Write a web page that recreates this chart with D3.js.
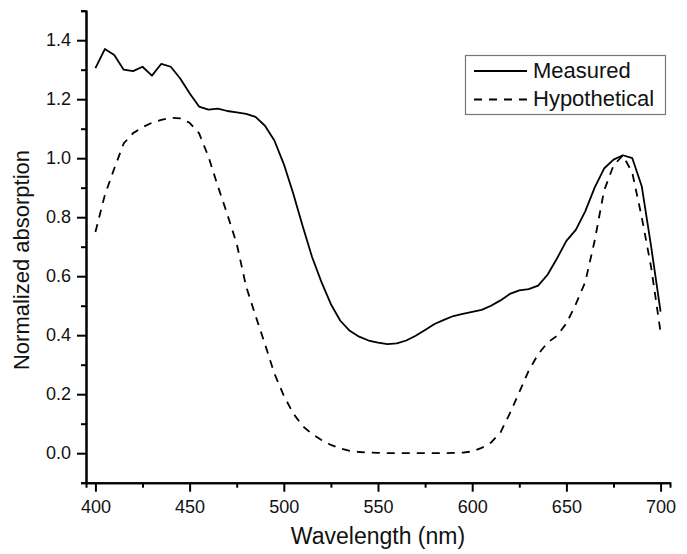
<!DOCTYPE html>
<html>
<head>
<meta charset="utf-8">
<script src="https://cdn.jsdelivr.net/npm/d3@7"></script>
<style>
  html, body { margin: 0; padding: 0; background: #fff; }
  svg { display: block; font-family: "Liberation Sans", Arial, sans-serif; }
  .axis path, .axis line { stroke: #000; stroke-width: 2; }
  .axis text { font-size: 18px; fill: #111; }
</style>
</head>
<body>
<svg id="chart" width="687" height="554"></svg>
<script>
// wavelength grid (nm) and the two spectra
var wavelengths = [400, 405, 410, 415, 420, 425, 430, 435, 440, 445,
                   450, 455, 460, 465, 470, 475, 480, 485, 490, 495,
                   500, 505, 510, 515, 520, 525, 530, 535, 540, 545,
                   550, 555, 560, 565, 570, 575, 580, 585, 590, 595,
                   600, 605, 610, 615, 620, 625, 630, 635, 640, 645,
                   650, 655, 660, 665, 670, 675, 680, 685, 690, 695, 700];

var measured = [1.305, 1.37, 1.35, 1.30, 1.295, 1.31, 1.28, 1.32, 1.31, 1.27,
                1.22, 1.175, 1.165, 1.168, 1.16, 1.155, 1.15, 1.14, 1.11, 1.06,
                0.98, 0.88, 0.77, 0.665, 0.58, 0.505, 0.449, 0.415, 0.395, 0.382,
                0.375, 0.37, 0.372, 0.382, 0.398, 0.418, 0.438, 0.452, 0.465, 0.472,
                0.479, 0.486, 0.50, 0.518, 0.54, 0.552, 0.556, 0.568, 0.605, 0.66,
                0.72, 0.757, 0.82, 0.90, 0.965, 0.995, 1.01, 1.0, 0.905, 0.70, 0.48];

var hypothetical = [0.75, 0.875, 0.965, 1.05, 1.085, 1.105, 1.12, 1.13, 1.137, 1.135,
                    1.12, 1.085, 1.005, 0.905, 0.81, 0.71, 0.565, 0.466, 0.37, 0.27,
                    0.195, 0.135, 0.092, 0.065, 0.045, 0.028, 0.016, 0.008, 0.004, 0.002,
                    0.001, 0.0, 0.0, 0.0, 0.0, 0.0, 0.0, 0.0, 0.001, 0.002,
                    0.006, 0.018, 0.036, 0.07, 0.135, 0.207, 0.28, 0.335, 0.375, 0.398,
                    0.44, 0.505, 0.58, 0.72, 0.89, 0.975, 1.01, 0.95, 0.80, 0.63, 0.41];

var xMajor = [400, 450, 500, 550, 600, 650, 700];
var xMinor = [425, 475, 525, 575, 625, 675];
var yMajor = [0.0, 0.2, 0.4, 0.6, 0.8, 1.0, 1.2, 1.4];
var yMinor = [-0.1, 0.1, 0.3, 0.5, 0.7, 0.9, 1.1, 1.3, 1.5];

var series = [
  { name: "Measured", values: measured, dash: null },
  { name: "Hypothetical", values: hypothetical, dash: "8,7" }
];

var svg = d3.select("#chart");

var x = d3.scaleLinear().domain([395, 705]).range([86, 670]);
var y = d3.scaleLinear().domain([-0.1, 1.5]).range([482.7, 10.7]);

// axes: minor ticks first (no labels), then majors with labels
svg.append("g").attr("class", "axis")
  .attr("transform", "translate(0,482.7)")
  .call(d3.axisBottom(x).tickValues(xMinor).tickSize(5).tickFormat(""));
svg.append("g").attr("class", "axis")
  .attr("transform", "translate(0,482.7)")
  .call(d3.axisBottom(x).tickValues(xMajor).tickSizeInner(9).tickSizeOuter(0).tickPadding(9)
    .tickFormat(d3.format("d")));

svg.append("g").attr("class", "axis")
  .attr("transform", "translate(86,0)")
  .call(d3.axisLeft(y).tickValues(yMinor).tickSize(5).tickFormat(""));
svg.append("g").attr("class", "axis")
  .attr("transform", "translate(86,0)")
  .call(d3.axisLeft(y).tickValues(yMajor).tickSizeInner(9).tickSizeOuter(0).tickPadding(6)
    .tickFormat(d3.format(".1f")));

// curves
var line = d3.line()
  .x(function (d, i) { return x(wavelengths[i]); })
  .y(function (d) { return y(d); });

svg.append("g").selectAll("path").data(series).join("path")
  .attr("d", function (s) { return line(s.values); })
  .attr("fill", "none")
  .attr("stroke", "#000")
  .attr("stroke-width", 1.8)
  .attr("stroke-linejoin", "round")
  .attr("stroke-dasharray", function (s) { return s.dash; });

// axis titles
svg.append("text")
  .attr("x", 378).attr("y", 544)
  .attr("text-anchor", "middle")
  .style("font-size", "23px").attr("fill", "#111")
  .text("Wavelength (nm)");

svg.append("text")
  .attr("transform", "translate(29,260) rotate(-90)")
  .attr("text-anchor", "middle")
  .style("font-size", "22px").attr("fill", "#111")
  .text("Normalized absorption");

// legend
var lg = svg.append("g");
lg.append("rect")
  .attr("x", 465.5).attr("y", 55.5).attr("width", 200).attr("height", 59)
  .attr("fill", "#fff").attr("stroke", "#777").attr("stroke-width", 1.2);

var item = lg.selectAll("g.item").data(series).join("g").attr("class", "item")
  .attr("transform", function (s, i) { return "translate(0," + (i * 28.5) + ")"; });
item.append("line")
  .attr("x1", 474).attr("x2", 527).attr("y1", 71).attr("y2", 71)
  .attr("stroke", "#000").attr("stroke-width", 1.8)
  .attr("stroke-dasharray", function (s) { return s.dash; });
item.append("text")
  .attr("x", 533).attr("y", 77.5)
  .style("font-size", "22px").attr("fill", "#111")
  .text(function (s) { return s.name; });
</script>
</body>
</html>
